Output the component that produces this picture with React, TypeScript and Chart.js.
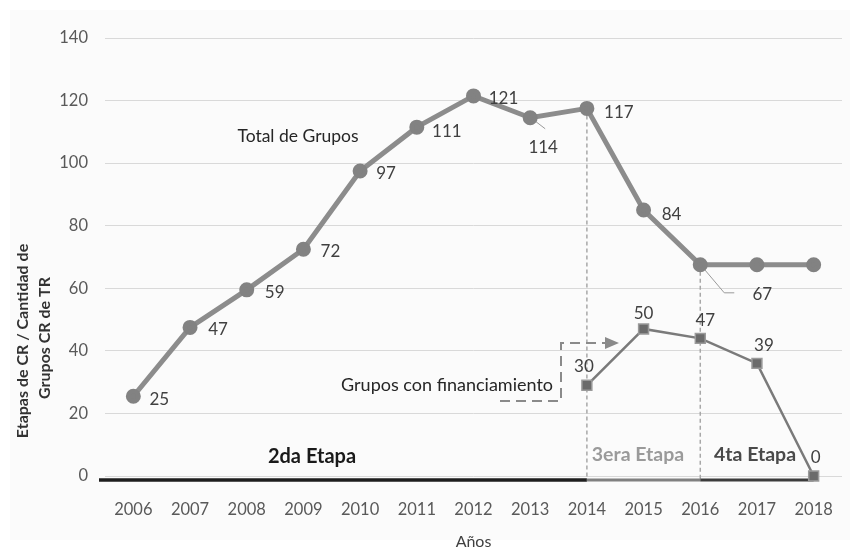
import React, { useEffect, useRef } from "react";
import { Chart, registerables } from "chart.js";

Chart.register(...registerables);

const years = ["2006", "2007", "2008", "2009", "2010", "2011", "2012", "2013", "2014", "2015", "2016", "2017", "2018"];
const totalGrupos = [25.5, 47.5, 59.5, 72.5, 97.5, 111.5, 121.5, 114.5, 117.5, 85, 67.5, 67.5, 67.5];
const totalLabels = ["25", "47", "59", "72", "97", "111", "121", "114", "117", "84", "67", "", ""];
const financiados = [null, null, null, null, null, null, null, null, 29, 47, 44, 36, 0];
const financiadosLabels = ["", "", "", "", "", "", "", "", "30", "50", "47", "39", "0"];
const yTicks = [0, 20, 40, 60, 80, 100, 120, 140];

const FONT = "Lato, 'Open Sans', sans-serif";

// label offsets (pixels) relative to each point
const totalOffsets: [number, number][] = [
  [26, 3], [28, 2], [28, 3], [27, 2], [26, 3], [30, 4], [30, 3], [13, 30], [32, 4], [28, 4], [62, 30], [0, 0], [0, 0],
];
const finOffsets: [number, number][] = [
  [0, 0], [0, 0], [0, 0], [0, 0], [0, 0], [0, 0], [0, 0], [0, 0], [-3, -19], [0, -15], [5, -18], [7, -18], [2, -18],
];

const overlay = {
  id: "overlay",
  beforeDraw(chart: any) {
    const ctx = chart.ctx;
    ctx.save();
    ctx.fillStyle = "#ffffff";
    ctx.fillRect(0, 0, chart.width, chart.height);
    ctx.fillStyle = "#fbfbfb";
    ctx.fillRect(10, 10, 840, 530);
    ctx.restore();
  },
  beforeDatasetsDraw(chart: any) {
    const ctx = chart.ctx;
    const area = chart.chartArea;
    const tot = chart.getDatasetMeta(0).data;
    ctx.save();
    // hide part of the zero gridline behind "2da Etapa"
    ctx.fillStyle = "#fbfbfb";
    ctx.fillRect(253, area.bottom - 6, 214, 5);
    // vertical dashed dividers
    ctx.strokeStyle = "#a8a8a8";
    ctx.lineWidth = 1.5;
    ctx.setLineDash([4, 3]);
    [8, 10].forEach((i) => {
      const p = tot[i];
      ctx.beginPath();
      ctx.moveTo(p.x, p.y);
      ctx.lineTo(p.x, area.bottom + 3);
      ctx.stroke();
    });
    ctx.setLineDash([]);
    // stage bars at the bottom
    const yb = area.bottom + 4;
    const x14 = tot[8].x, x16 = tot[10].x, x18 = tot[12].x;
    ctx.lineCap = "butt";
    ctx.strokeStyle = "#1e1e1e";
    ctx.lineWidth = 3.5;
    ctx.beginPath();
    ctx.moveTo(area.left - 6, yb);
    ctx.lineTo(x14, yb);
    ctx.stroke();
    ctx.strokeStyle = "#808080";
    ctx.lineWidth = 3;
    ctx.beginPath();
    ctx.moveTo(x14, yb);
    ctx.lineTo(x16, yb);
    ctx.stroke();
    ctx.strokeStyle = "#3c3c3c";
    ctx.beginPath();
    ctx.moveTo(x16, yb);
    ctx.lineTo(x18, yb);
    ctx.stroke();
    // leader lines
    ctx.strokeStyle = "#9a9a9a";
    ctx.lineWidth = 1;
    const p13 = tot[7];
    ctx.beginPath();
    ctx.moveTo(p13.x + 2, p13.y + 1);
    ctx.lineTo(p13.x + 15, p13.y + 11);
    ctx.stroke();
    const p16 = tot[10];
    ctx.beginPath();
    ctx.moveTo(p16.x + 2, p16.y + 2);
    ctx.lineTo(p16.x + 24, p16.y + 28);
    ctx.lineTo(p16.x + 34, p16.y + 28);
    ctx.stroke();
    ctx.restore();
  },
  afterDatasetsDraw(chart: any) {
    const ctx = chart.ctx;
    const tot = chart.getDatasetMeta(0).data;
    const fin = chart.getDatasetMeta(1).data;
    ctx.save();
    ctx.textAlign = "center";
    ctx.textBaseline = "middle";
    ctx.fillStyle = "#404040";
    ctx.font = `17px ${FONT}`;
    totalLabels.forEach((t, i) => {
      if (!t) return;
      const p = tot[i];
      ctx.fillText(t, p.x + totalOffsets[i][0], p.y + totalOffsets[i][1]);
    });
    financiadosLabels.forEach((t, i) => {
      if (!t) return;
      const p = fin[i];
      ctx.fillText(t, p.x + finOffsets[i][0], p.y + finOffsets[i][1]);
    });
    // series annotations
    ctx.fillStyle = "#262626";
    ctx.font = `17.5px ${FONT}`;
    ctx.fillText("Total de Grupos", 298, 136);
    ctx.textAlign = "right";
    ctx.font = `18px ${FONT}`;
    ctx.fillText("Grupos con financiamiento", 553, 385);
    // dashed callout with arrow
    ctx.strokeStyle = "#8a8a8a";
    ctx.lineWidth = 2;
    ctx.setLineDash([10, 6]);
    ctx.beginPath();
    ctx.moveTo(500, 401);
    ctx.lineTo(561, 401);
    ctx.lineTo(561, 343);
    ctx.lineTo(606, 343);
    ctx.stroke();
    ctx.setLineDash([]);
    ctx.fillStyle = "#8a8a8a";
    ctx.beginPath();
    ctx.moveTo(619, 343);
    ctx.lineTo(605, 337);
    ctx.lineTo(605, 349);
    ctx.closePath();
    ctx.fill();
    // stage labels
    ctx.textAlign = "center";
    ctx.font = `bold 20px ${FONT}`;
    ctx.fillStyle = "#1a1a1a";
    ctx.fillText("2da Etapa", 312, 457);
    ctx.font = `bold 19.5px ${FONT}`;
    ctx.fillStyle = "#9a9a9a";
    ctx.fillText("3era Etapa", 638, 455);
    ctx.fillStyle = "#4a4a4a";
    ctx.fillText("4ta Etapa", 755, 455);
    // y axis title (two lines)
    ctx.fillStyle = "#333333";
    ctx.font = `bold 16px ${FONT}`;
    ctx.save();
    ctx.translate(23, 341);
    ctx.rotate(-Math.PI / 2);
    ctx.fillText("Etapas de CR / Cantidad de", 0, 0);
    ctx.restore();
    ctx.save();
    ctx.translate(45, 338);
    ctx.rotate(-Math.PI / 2);
    ctx.fillText("Grupos CR de TR", 0, 0);
    ctx.restore();
    ctx.restore();
  },
};

export default function App() {
  const ref = useRef<HTMLCanvasElement | null>(null);
  useEffect(() => {
    document.body.style.margin = "0";
    if (!ref.current) return;
    const chart = new Chart(ref.current, {
      type: "line",
      data: {
        labels: years,
        datasets: [
          {
            label: "Total de Grupos",
            data: totalGrupos,
            borderColor: "#8c8c8c",
            borderWidth: 5,
            pointRadius: 5,
            pointBackgroundColor: "#828282",
            pointBorderColor: "#828282",
            tension: 0,
            clip: false as any,
          },
          {
            label: "Grupos con financiamiento",
            data: financiados as any,
            borderColor: "#7a7a7a",
            borderWidth: 2.5,
            pointStyle: "rect",
            pointRadius: 7,
            pointBackgroundColor: "#6b6b6b",
            pointBorderColor: "#9a9a9a",
            pointBorderWidth: 1.5,
            tension: 0,
            spanGaps: false,
            clip: false as any,
          },
        ],
      },
      options: {
        responsive: false,
        animation: false,
        layout: { padding: { left: 0, right: 18, top: 38, bottom: 0 } },
        plugins: {
          legend: { display: false },
          tooltip: { enabled: false },
        },
        scales: {
          x: {
            offset: true,
            grid: { display: false },
            border: { display: false },
            ticks: { color: "#595959", font: { family: FONT, size: 16.5 }, padding: 16, maxRotation: 0 },
            title: { display: true, text: "Años", color: "#404040", font: { family: FONT, size: 16 }, padding: 0 },
            afterFit: (s: any) => { s.height = 75; },
          },
          y: {
            min: 0,
            max: 140,
            afterBuildTicks: (s: any) => { s.ticks = yTicks.map((v) => ({ value: v })); },
            grid: { color: "#d9d9d9", lineWidth: 1, drawTicks: false },
            border: { display: false },
            ticks: { color: "#595959", font: { family: FONT, size: 16.5 }, padding: 17 },
            afterFit: (s: any) => { s.width = 105; },
          },
        },
      },
      plugins: [overlay],
    });
    return () => chart.destroy();
  }, []);
  return (
    <div style={{ width: 860, height: 551 }}>
      <canvas ref={ref} width={860} height={551} />
    </div>
  );
}
